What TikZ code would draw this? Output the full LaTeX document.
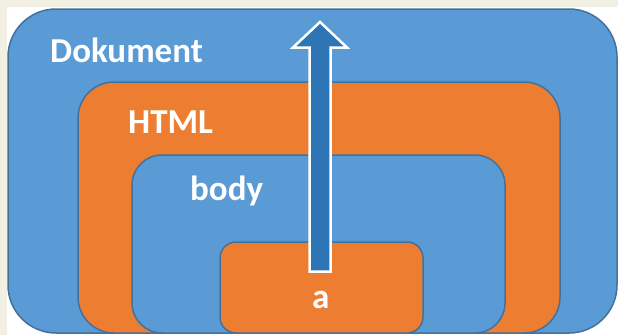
\documentclass[tikz,border=0pt]{standalone}
\usepackage{fontspec}
\setmainfont{Carlito}
\usetikzlibrary{calc,positioning}
\definecolor{docblue}{HTML}{5B9BD5}
\definecolor{htmlorange}{HTML}{ED7D31}
\definecolor{arrowblue}{HTML}{2E75B6}
\definecolor{edgeblue}{HTML}{41719C}
\definecolor{paper}{HTML}{F2F0E3}
\tikzset {
  layer/.style={draw=edgeblue,line width=1.5pt},
  layertext/.style={font=\bfseries\fontsize{35}{40}\selectfont,text=white,
    anchor=base west,inner sep=0pt},
}

\begin{document}
\begin{tikzpicture}[x=1pt,y=-1pt]
  \fill[paper] (0,0) rectangle (618,335);
  \fill[white] (7,7) rectangle (618,335);
  \useasboundingbox (0,0) rectangle (618,335);

  \draw[layer,fill=docblue,rounded corners=48pt] (8,9) rectangle (617,333);
  \draw[layer,fill=htmlorange,rounded corners=36pt] (78,82) rectangle (560,333);
  \draw[layer,fill=docblue,rounded corners=30pt] (132,155) rectangle (505,333);
  \draw[layer,fill=htmlorange,rounded corners=16pt] (220,242) rectangle (423,333);

  \node[layertext] (dokument) at (50,62) {Dokument};
  \node[layertext] (html) at (128,133) {HTML};
  \node[layertext] (body) at (190,200) {body};
  \node[layertext] (a) at (312,308) {a};

  % bubbling arrow
  \coordinate (tip) at (320,22);
  \coordinate (base) at (320,271.5);
  \draw[white,line width=2.5pt,fill=arrowblue,line join=miter]
    ($(base)+(-10.5,0)$) -- ($(tip)+(-10.5,25.5)$) -- ($(tip)+(-27,25.5)$)
    -- (tip) -- ($(tip)+(27,25.5)$) -- ($(tip)+(10.5,25.5)$)
    -- ($(base)+(10.5,0)$) -- cycle;
\end{tikzpicture}
\end{document}
